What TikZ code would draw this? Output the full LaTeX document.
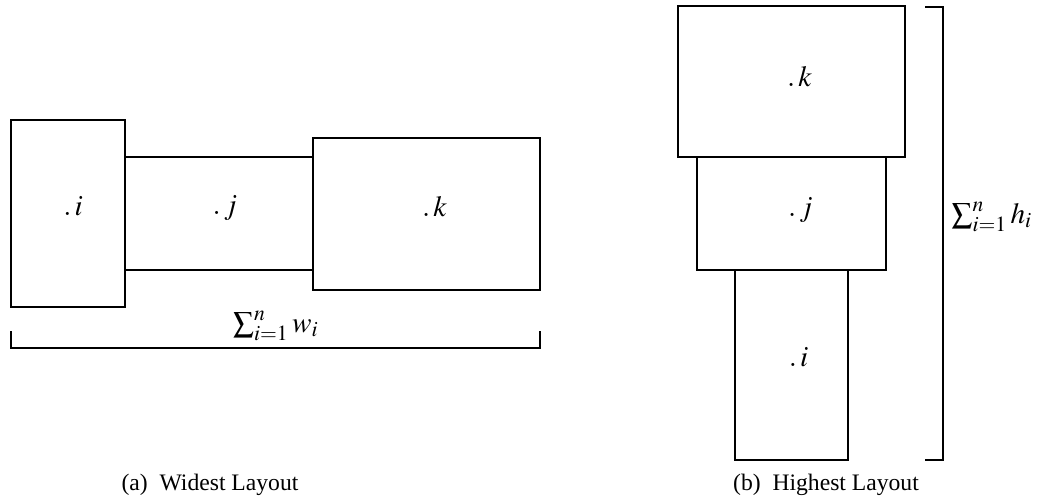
\documentclass[tikz,border=0pt]{standalone}
\usepackage{mathptmx}
\usepackage[no-math]{fontspec}
\setmainfont{Liberation Serif}
\usetikzlibrary{fit}
\begin{document}
\begin{tikzpicture}[x=0.4444pt, y=-0.4444pt,
  blk/.style={draw, line width=0.8pt, inner sep=0pt, fit=#1},
  brace/.style={draw, line width=0.8pt},
  mlabel/.style={font=\fontsize{13}{15}\selectfont, inner sep=1pt},
  captext/.style={font=\fontsize{10.5}{12}\selectfont}]
\useasboundingbox (0,0) rectangle (1038,503);

% ---- widest layout ----
\coordinate (ai1) at (11,120);  \coordinate (ai2) at (125,307);
\coordinate (aj1) at (125,157); \coordinate (aj2) at (313,270);
\coordinate (ak1) at (313,138); \coordinate (ak2) at (540,290);
\node[blk={(ai1)(ai2)}] (Ai) {};
\node[blk={(aj1)(aj2)}] (Aj) {};
\node[blk={(ak1)(ak2)}] (Ak) {};
\node[mlabel] (Ail) at ([shift={(5,-7)}]Ai.center) {$.\,i$};
\node[mlabel] (Ajl) at ([shift={(6,-5)}]Aj.center) {$.\,j$};
\node[mlabel] (Akl) at ([shift={(8,-7)}]Ak.center) {$.\,k$};

\coordinate (wl) at (11,331);  \coordinate (wr) at (540,331);
\draw[brace] (wl) -- ++(0,17) -| (wr);
\node[mlabel] (wsum) at (276,326) {$\sum_{i=1}^{n} w_i$};
\node[captext] (capa) at (210,485) {(a)\enspace Widest Layout};

% ---- highest layout ----
\coordinate (bk1) at (678,6);   \coordinate (bk2) at (905,157);
\coordinate (bj1) at (697,157); \coordinate (bj2) at (886,270);
\coordinate (bi1) at (735,270); \coordinate (bi2) at (848,460);
\node[blk={(bk1)(bk2)}] (Bk) {};
\node[blk={(bj1)(bj2)}] (Bj) {};
\node[blk={(bi1)(bi2)}] (Bi) {};
\node[mlabel] (Bkl) at ([shift={(8,-5)}]Bk.center) {$.\,k$};
\node[mlabel] (Bjl) at ([shift={(9,-3)}]Bj.center) {$.\,j$};
\node[mlabel] (Bil) at ([shift={(7,-8)}]Bi.center) {$.\,i$};

\coordinate (ht) at (925,7);  \coordinate (hb) at (925,460);
\draw[brace] (ht) -- ++(18,0) |- (hb);
\node[mlabel] (hsum) at (992,217) {$\sum_{i=1}^{n} h_i$};
\node[captext] (capb) at (826,485) {(b)\enspace Highest Layout};
\end{tikzpicture}
\end{document}
